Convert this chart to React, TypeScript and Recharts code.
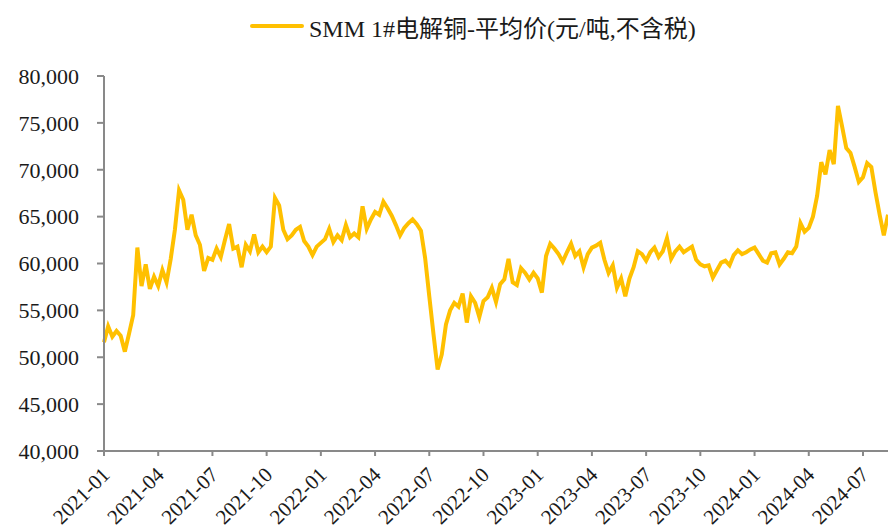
import { LineChart, Line, XAxis, YAxis } from 'recharts';

const FONT = '"Liberation Serif", "Times New Roman", "Noto Sans CJK SC", serif';
const LINE_COLOR = '#FFC000';
const AXIS_COLOR = '#898989';

// quarter labels on the x axis, one every 13 weeks
const quarterLabels = [
  '2021-01', '2021-04', '2021-07', '2021-10',
  '2022-01', '2022-04', '2022-07', '2022-10',
  '2023-01', '2023-04', '2023-07', '2023-10',
  '2024-01', '2024-04', '2024-07',
];

const yTicks = [40000, 45000, 50000, 55000, 60000, 65000, 70000, 75000, 80000];

// weekly SMM 1# copper average price (yuan/t, ex-tax)
const prices = [
  51600, 53300, 52200, 52800, 52300, 50600, 52500, 54500, 61700, 57600,
  59900, 57300, 58600, 57600, 59300, 58000, 60500, 63600, 67800, 66800,
  63600, 65200, 63000, 62000, 59200, 60600, 60400, 61600, 60700, 62500,
  64200, 61600, 61800, 59600, 62000, 61300, 63100, 61200, 61800, 61200,
  61800, 67000, 66200, 63600, 62600, 63000, 63600, 63900, 62400, 61800,
  60900, 61800, 62200, 62600, 63700, 62300, 63000, 62500, 64100, 62800,
  63200, 62800, 66100, 63700, 64700, 65500, 65200, 66600, 65900, 65100,
  64100, 63000, 63800, 64300, 64700, 64200, 63500, 60600, 56500, 52500,
  48700, 50300, 53500, 55000, 55800, 55400, 56800, 53700, 56500, 55800,
  54300, 56000, 56400, 57400, 55900, 57800, 58300, 60500, 58000, 57700,
  59500, 59000, 58300, 59000, 58400, 56900, 60800, 62100, 61600, 61000,
  60200, 61200, 62100, 60800, 61300, 59600, 61000, 61700, 61900, 62200,
  60400, 59000, 59800, 57400, 58400, 56500, 58400, 59600, 61300, 61000,
  60300, 61200, 61700, 60700, 61300, 62700, 60500, 61300, 61800, 61200,
  61500, 61800, 60400, 59900, 59700, 59800, 58500, 59300, 60100, 60300,
  59800, 60900, 61400, 61000, 61200, 61500, 61700, 61000, 60300, 60100,
  61100, 61200, 59900, 60500, 61200, 61100, 61800, 64300, 63400, 63800,
  65000, 67200, 70800, 69500, 72100, 70600, 76800, 74600, 72300, 71800,
  70300, 68700, 69200, 70700, 70300, 67600, 65200, 63000, 65200,
];

const data = prices.map((price, week) => ({ week, price }));
const quarterTicks = quarterLabels.map((_, i) => i * 13);

function DateTick({ x, y, payload }: any) {
  const label = quarterLabels[quarterTicks.indexOf(payload.value)] ?? '';
  const ax = x + 7;
  const ay = y + 20;
  return (
    <text
      x={ax}
      y={ay}
      transform={`rotate(-45, ${ax}, ${ay})`}
      textAnchor="end"
      fill="#1a1a1a"
      fontSize={21}
      fontFamily={FONT}
    >
      {label}
    </text>
  );
}

export default function App() {
  return (
    <div style={{ position: 'absolute', left: 0, top: 0, width: 888, height: 526, background: '#fff', overflow: 'hidden' }}>
      <div
        style={{
          position: 'absolute',
          top: 9,
          left: 250,
          height: 34,
          display: 'flex',
          alignItems: 'center',
          fontFamily: FONT,
          fontSize: 24,
          color: '#1a1a1a',
          whiteSpace: 'nowrap',
        }}
      >
        <span style={{ display: 'inline-block', width: 54, height: 4, background: LINE_COLOR, borderRadius: 2, marginRight: 5 }} />
        <span>SMM 1#电解铜-平均价(元/吨,不含税)</span>
      </div>
      <LineChart width={888} height={526} data={data} margin={{ top: 76, right: 0, bottom: 0, left: 0 }}>
        <XAxis
          dataKey="week"
          type="number"
          domain={[0, prices.length - 1]}
          ticks={quarterTicks}
          interval={0}
          tick={<DateTick />}
          tickSize={5}
          tickMargin={0}
          stroke={AXIS_COLOR}
          strokeWidth={2}
          height={75}
        />
        <YAxis
          domain={[40000, 80000]}
          ticks={yTicks}
          interval={0}
          width={104}
          tickSize={7}
          tickMargin={18}
          stroke={AXIS_COLOR}
          strokeWidth={2}
          tickFormatter={(v: number) => v.toLocaleString('en-US')}
          tick={{ fill: '#1a1a1a', fontSize: 22, fontFamily: FONT }}
        />
        <Line
          type="linear"
          dataKey="price"
          stroke={LINE_COLOR}
          strokeWidth={4}
          dot={false}
          isAnimationActive={false}
        />
      </LineChart>
    </div>
  );
}
